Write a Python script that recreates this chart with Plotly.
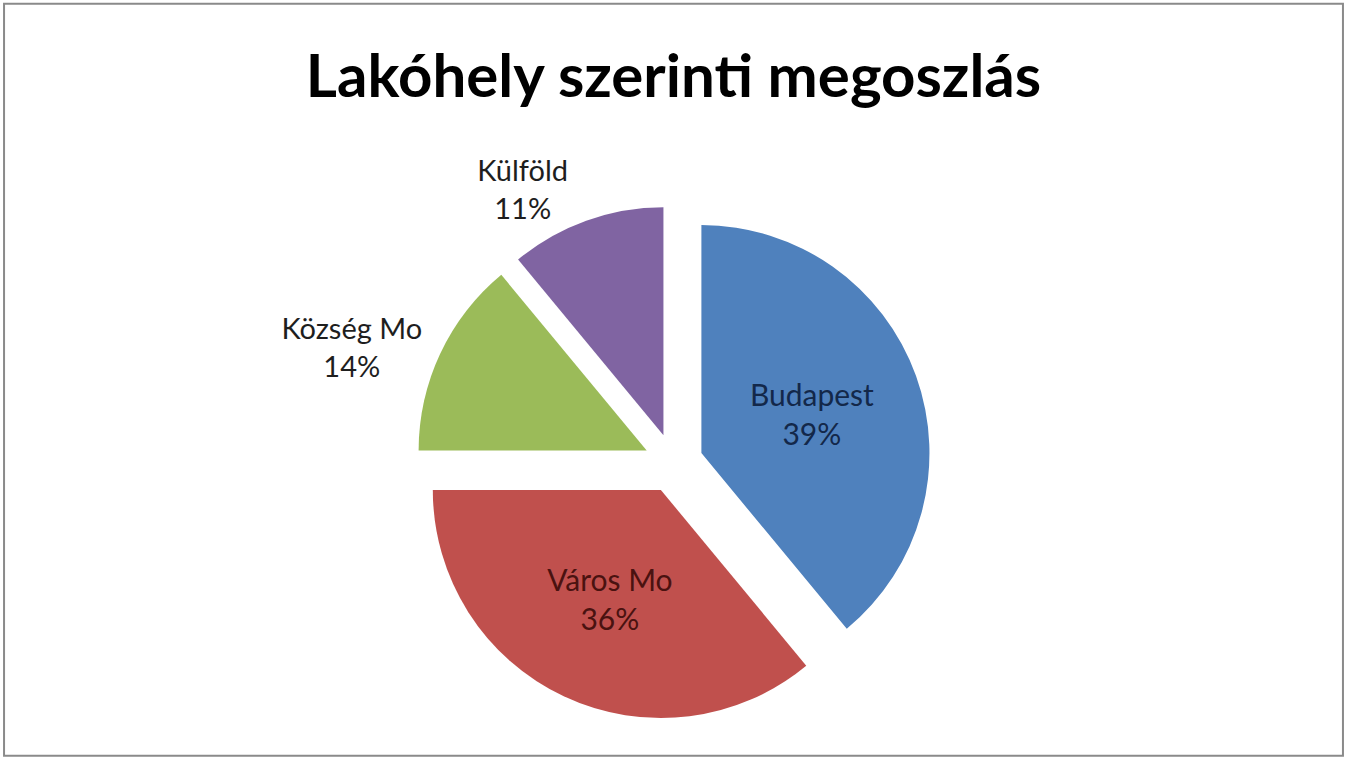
import plotly.graph_objects as go

categories = ["Budapest", "Város Mo", "Község Mo", "Külföld"]
values = [39, 36, 14, 11]
colors = ["#4F81BD", "#C0504D", "#9BBB59", "#8064A2"]
label_colors = ["#13284a", "#4a1210", "#1e1e1e", "#1e1e1e"]
title_text = "Lakóhely szerinti megoszlás"

fig = go.Figure(go.Pie(
    labels=categories,
    values=values,
    sort=False,
    direction="clockwise",
    rotation=0,
    pull=[0.13, 0.13, 0.13, 0.13],
    marker=dict(colors=colors, line=dict(width=0)),
    texttemplate="%{label}<br>%{percent:.0%}",
    textposition=["inside", "inside", "outside", "outside"],
    insidetextorientation="horizontal",
    automargin=False,
    textfont=dict(family="Lato, Open Sans, sans-serif", size=30, color=label_colors),
    insidetextfont=dict(family="Lato, Open Sans, sans-serif", size=30, color=label_colors),
    outsidetextfont=dict(family="Lato, Open Sans, sans-serif", size=29, color=label_colors),
    domain=dict(x=[0.2, 0.8], y=[0.049, 0.729]),
    showlegend=False,
    hoverinfo="label+percent",
))

fig.update_layout(
    width=1347, height=758,
    autosize=False,
    margin=dict(l=0, r=0, t=0, b=0, pad=0, autoexpand=False),
    paper_bgcolor="white",
    title=dict(text="<b>" + title_text + "</b>", x=0.5, xanchor="center", y=0.9, yanchor="middle",
               font=dict(family="Lato, Open Sans, sans-serif", size=60, color="black")),
    shapes=[dict(type="rect", xref="paper", yref="paper", x0=0.003, y0=0.003, x1=0.997, y1=0.995,
                 line=dict(color="#8a8a8a", width=2))],
)

fig.write_html("out.html", config={"displayModeBar": False},
               post_script="document.body.style.margin='0';document.body.style.overflow='hidden';")
